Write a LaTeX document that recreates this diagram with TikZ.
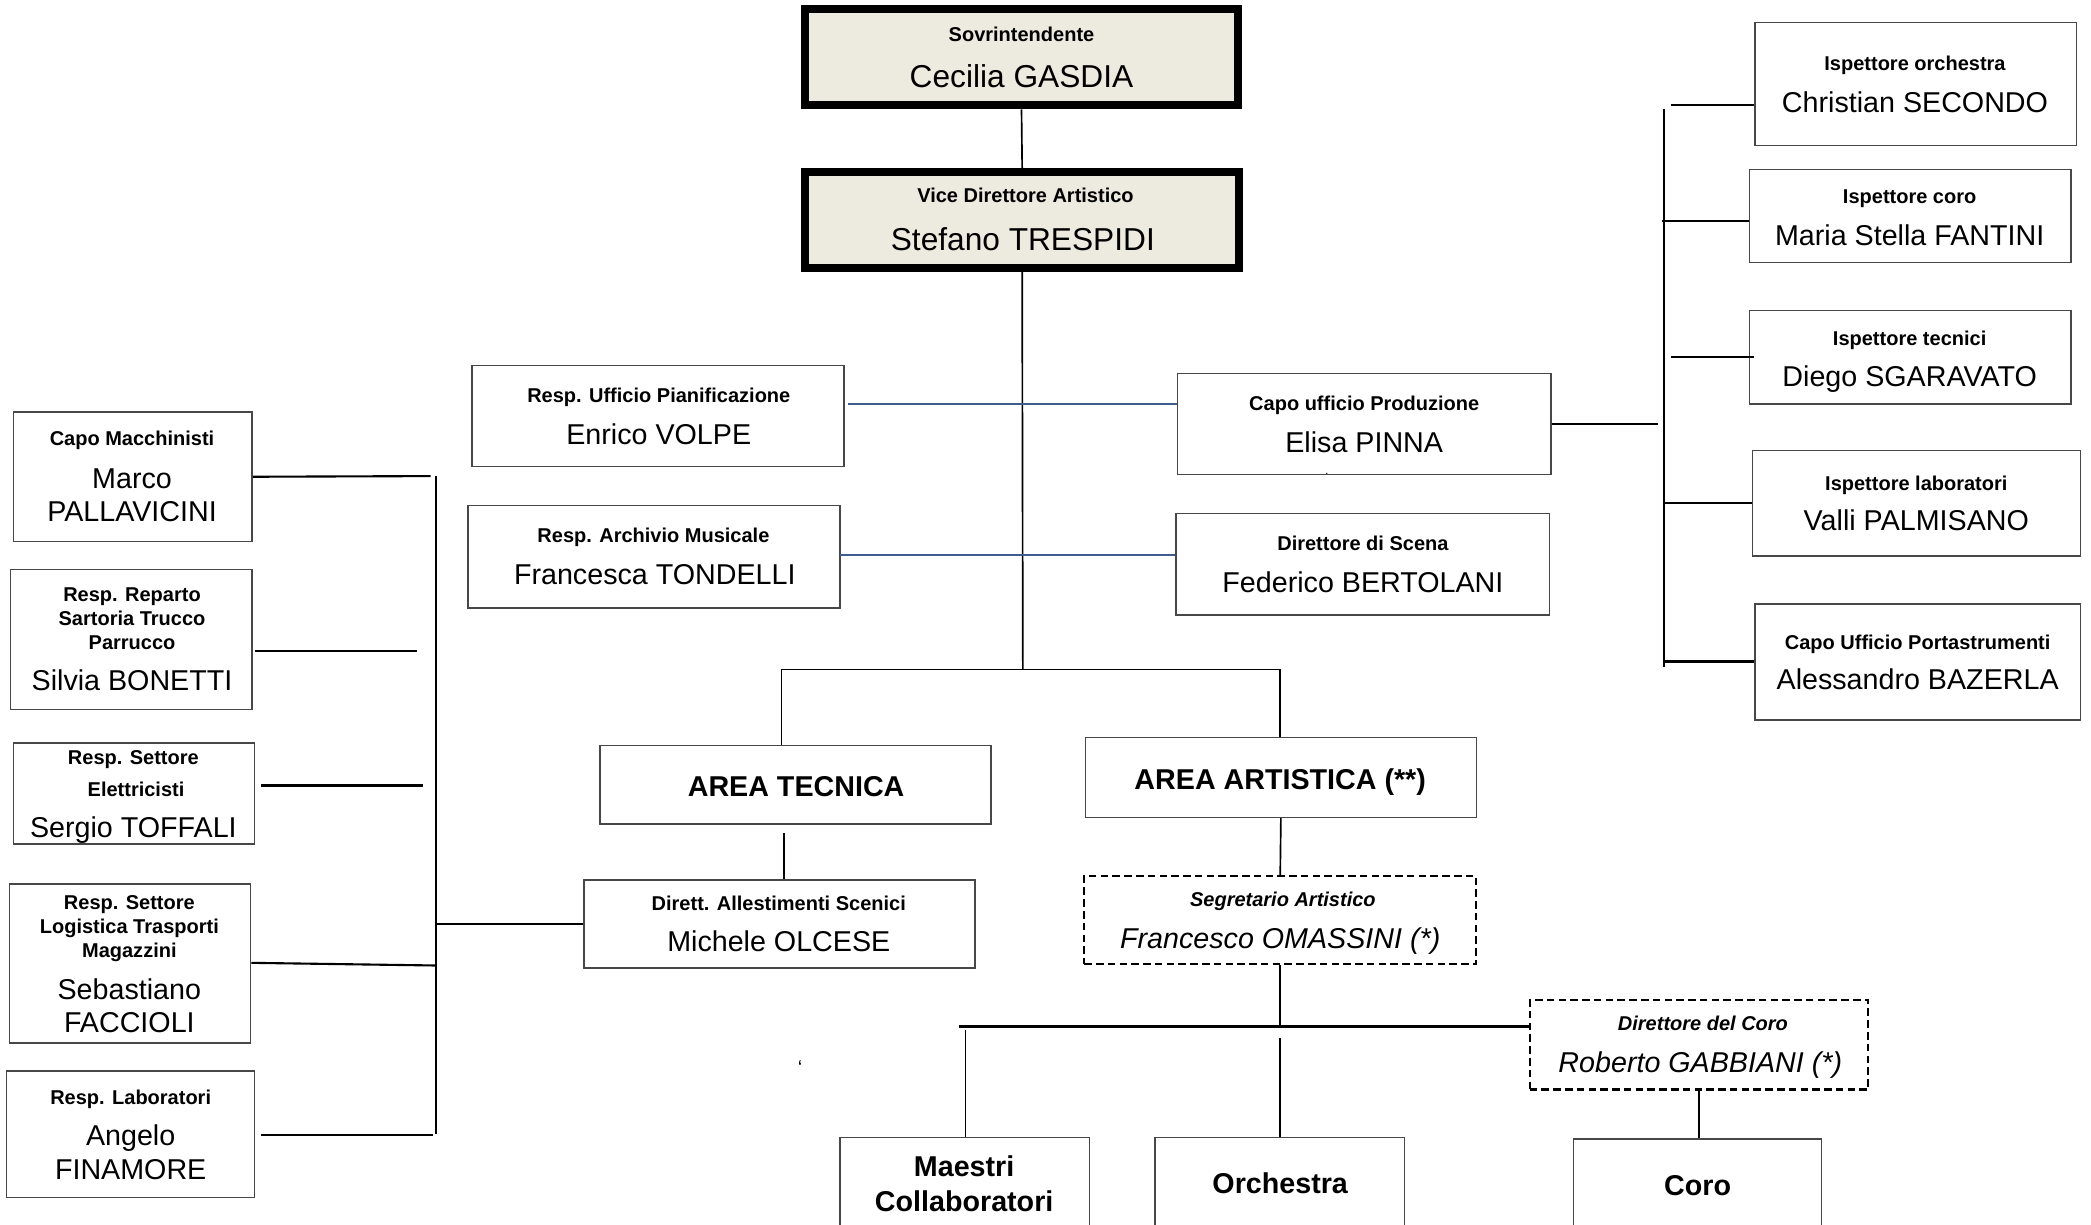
\documentclass[tikz,border=0pt]{standalone}
\usepackage{fontspec}
\setmainfont{Liberation Sans}
\usetikzlibrary{fit}
\definecolor{beigefill}{RGB}{237,234,224}
\definecolor{bluelink}{RGB}{62,92,140}
\tikzset{
  lab/.style={inner sep=0pt, text height=0.716em, text depth=0pt, anchor=center},
  hd/.style={lab, font=\fontsize{9}{11}\selectfont\bfseries},
  hdit/.style={lab, font=\fontsize{9}{11}\selectfont\bfseries\itshape},
  nm/.style={lab, yshift=-1.3pt, font=\fontsize{12.9}{15}\selectfont},
  nmit/.style={lab, yshift=-1.3pt, font=\fontsize{12.9}{15}\selectfont\itshape},
  nmtop/.style={lab, yshift=-1.5pt, font=\fontsize{14.25}{17}\selectfont},
  bignm/.style={lab, yshift=-1.3pt, font=\fontsize{12.9}{15}\selectfont\bfseries},
  bx/.style={draw=black!72, line width=0.65pt, inner sep=0pt},
  topbx/.style={draw=black, line width=3.6pt, fill=beigefill, inner sep=0pt},
  dbx/.style={draw=black, line width=0.95pt, dash pattern=on 3.4pt off 1.9pt, inner sep=0pt},
  conn/.style={draw=black, line width=0.75pt},
  thickconn/.style={draw=black, line width=0.95pt},
  barconn/.style={draw=black, line width=1.3pt},
  blueconn/.style={draw=bluelink, line width=1pt},
}
\begin{document}
\begin{tikzpicture}[x=0.6pt,y=-0.6pt]
\useasboundingbox (0,0) rectangle (1568,918);
\clip (0,0) rectangle (1568,918);
\fill[white] (0,0) rectangle (1568,918);

% ---------- top boxes ----------
\node[topbx, fit={(604,7)(928,79)}] (sov) {};
\node[hd] (tsov1) at (766,25) {Sovrintendente};
\node[nmtop] (tsov2) at (766,57) {Cecilia GASDIA};

\node[topbx, fit={(604,129)(929,201)}] (vice) {};
\node[hd] (tvice1) at (769,146) {Vice Direttore Artistico};
\node[nmtop] (tvice2) at (767,179) {Stefano TRESPIDI};

% ---------- middle boxes ----------
\node[bx, fit={(354,274)(633,350)}] (enr) {};
\node[hd] (tenr1) at (494,296) {Resp. Ufficio Pianificazione};
\node[nm] (tenr2) at (494,325) {Enrico VOLPE};

\node[bx, fit={(351,379)(630,456)}] (fra) {};
\node[hd] (tfra1) at (490,401) {Resp. Archivio Musicale};
\node[nm] (tfra2) at (491,430) {Francesca TONDELLI};

\node[bx, fit={(883,280)(1163,356)}] (eli) {};
\node[hd] (teli1) at (1023,302) {Capo ufficio Produzione};
\node[nm] (teli2) at (1023,331) {Elisa PINNA};
\node[lab, font=\fontsize{5}{6}\selectfont] (dot) at (995,350) {.};

\node[bx, fit={(882,385)(1162,461)}] (fed) {};
\node[hd] (tfed1) at (1022,407) {Direttore di Scena};
\node[nm] (tfed2) at (1022,436) {Federico BERTOLANI};

\node[bx, fit={(450,559)(743,618)}] (tec) {};
\node[bignm] (ttec) at (597,589) {AREA TECNICA};

\node[bx, fit={(814,553)(1107,613)}] (art) {};
\node[bignm] (tart) at (960,584) {AREA ARTISTICA (**)};

\node[bx, fit={(438,660)(731,726)}] (mich) {};
\node[hd] (tmich1) at (584,677) {Dirett. Allestimenti Scenici};
\node[nm] (tmich2) at (584,705) {Michele OLCESE};

\node[dbx, fit={(813,657)(1107,723)}] (seg) {};
\node[hdit] (tseg1) at (962,674) {Segretario Artistico};
\node[nmit] (tseg2) at (960,703) {Francesco OMASSINI (*)};

\node[dbx, fit={(1147,750)(1401,817)}] (dir) {};
\node[hdit] (tdir1) at (1277,767) {Direttore del Coro};
\node[nmit] (tdir2) at (1275,796) {Roberto GABBIANI (*)};

\node[lab, font=\fontsize{9}{10}\selectfont] (tick) at (600,800) {`};

% ---------- bottom boxes ----------
\node[bx, fit={(630,853)(817,930)}] (mae) {};
\node[bignm] (tmae1) at (723,874) {Maestri};
\node[bignm] (tmae2) at (723,900) {Collaboratori};

\node[bx, fit={(866,853)(1053,930)}] (orc) {};
\node[bignm] (torc) at (960,887) {Orchestra};

\node[bx, fit={(1180,854)(1366,930)}] (coro) {};
\node[bignm] (tcoro) at (1273,888) {Coro};

% ---------- left boxes ----------
\node[bx, fit={(10,309)(189,406)}] (cm) {};
\node[hd] (tcm1) at (99,328) {Capo Macchinisti};
\node[nm] (tcm2) at (99,358) {Marco};
\node[nm] (tcm3) at (99,383) {PALLAVICINI};

\node[bx, fit={(8,427)(189,532)}] (bon) {};
\node[hd] (tbon1) at (99,445) {Resp. Reparto};
\node[hd] (tbon2) at (99,463) {Sartoria Trucco};
\node[hd] (tbon3) at (99,481) {Parrucco};
\node[nm] (tbon4) at (99,510) {Silvia BONETTI};

\node[bx, fit={(10,557)(191,633)}] (tof) {};
\node[hd] (ttof1) at (100,567) {Resp. Settore};
\node[hd] (ttof2) at (102,591) {Elettricisti};
\node[nm] (ttof3) at (100,620) {Sergio TOFFALI};

\node[bx, fit={(7,663)(188,782)}] (fac) {};
\node[hd] (tfac1) at (97,676) {Resp. Settore};
\node[hd] (tfac2) at (97,694) {Logistica Trasporti};
\node[hd] (tfac3) at (97,712) {Magazzini};
\node[nm] (tfac4) at (97,741) {Sebastiano};
\node[nm] (tfac5) at (97,766) {FACCIOLI};

\node[bx, fit={(5,803)(191,898)}] (fin) {};
\node[hd] (tfin1) at (98,822) {Resp. Laboratori};
\node[nm] (tfin2) at (98,851) {Angelo};
\node[nm] (tfin3) at (98,876) {FINAMORE};

% ---------- right boxes ----------
\node[bx, fit={(1316,17)(1557,109)}] (chr) {};
\node[hd] (tchr1) at (1436,47) {Ispettore orchestra};
\node[nm] (tchr2) at (1436,76) {Christian SECONDO};

\node[bx, fit={(1312,127)(1553,197)}] (mar) {};
\node[hd] (tmar1) at (1432,147) {Ispettore coro};
\node[nm] (tmar2) at (1432,176) {Maria Stella FANTINI};

\node[bx, fit={(1312,233)(1553,303)}] (die) {};
\node[hd] (tdie1) at (1432,253) {Ispettore tecnici};
\node[nm] (tdie2) at (1432,282) {Diego SGARAVATO};

\node[bx, fit={(1314,338)(1560,417)}] (val) {};
\node[hd] (tval1) at (1437,362) {Ispettore laboratori};
\node[nm] (tval2) at (1437,390) {Valli PALMISANO};

\node[bx, fit={(1316,453)(1560,540)}] (ale) {};
\node[hd] (tale1) at (1438,481) {Capo Ufficio Portastrumenti};
\node[nm] (tale2) at (1438,509) {Alessandro BAZERLA};

% ---------- connectors: centre ----------
\coordinate (j1) at (767,502);
\coordinate (jt) at (586,502);
\coordinate (ja) at (960,502);
\draw[conn] (sov.south) -- (vice.north);
\draw[conn] (vice.south) -- (j1);
\draw[conn] (jt) -- (ja);
\draw[conn] (jt) -- (jt |- tec.north);
\draw[conn] (ja) -- (ja |- art.north);
\coordinate (tm) at (588,625);
\draw[conn] (tm) -- (tm |- mich.north);
\draw[conn] (art.south) -- (seg.north);
\coordinate (j2) at (960,770);
\coordinate (j3) at (719,770);
\draw[conn] (seg.south) -- (j2);
\draw[barconn] (j3) -- (j3 -| dir.west);
\coordinate (m1) at (724,772);
\draw[conn] (m1) -- (m1 |- mae.north);
\coordinate (o1) at (960,778);
\draw[conn] (o1) -- (o1 |- orc.north);
\draw[conn] (dir.south) -- (dir.south |- coro.north);

% blue links
\coordinate (b1) at (636,303);
\coordinate (b2) at (630,416);
\draw[blueconn] (b1) -- (b1 -| eli.west);
\draw[blueconn] (b2) -- (b2 -| fed.west);

% ---------- connectors: right ----------
\coordinate (rE) at (1243,318);
\coordinate (rT) at (1248,82);
\coordinate (rB) at (1248,500);
\draw[thickconn] (eli.east) -- (rE);
\draw[thickconn] (rT) -- (rB);
\coordinate (rc1) at (1253,79);
\coordinate (rc2) at (1246,166);
\coordinate (rc3) at (1253,268);
\coordinate (rc4) at (1248,377);
\coordinate (rc5) at (1248,496);
\draw[thickconn] (rc1) -- (rc1 -| chr.west);
\draw[thickconn] (rc2) -- (rc2 -| mar.west);
\draw[thickconn] (rc3) -- ([xshift=2.4pt]rc3 -| die.west);
\draw[thickconn] (rc4) -- (rc4 -| val.west);
\draw[thickconn] (rc5) -- (rc5 -| ale.west);

% ---------- connectors: left ----------
\coordinate (lT) at (327,357);
\coordinate (lB) at (327,850);
\coordinate (l1) at (323,357);
\coordinate (l2) at (313,488);
\coordinate (l3) at (317,589);
\coordinate (l4) at (327,724);
\coordinate (l5) at (325,851);
\coordinate (lm) at (327,693);
\draw[thickconn] (lT) -- (lB);
\draw[thickconn] (cm.east) -- (l1);
\draw[thickconn] ([xshift=1.2pt]bon.east |- l2) -- (l2);
\draw[thickconn] ([xshift=2.4pt]tof.east |- l3) -- (l3);
\draw[thickconn] (fac.east |- 0,722) -- (l4);
\draw[thickconn] ([xshift=2.4pt]fin.east |- l5) -- (l5);
\draw[thickconn] (lm) -- (lm -| mich.west);
\end{tikzpicture}
\end{document}
